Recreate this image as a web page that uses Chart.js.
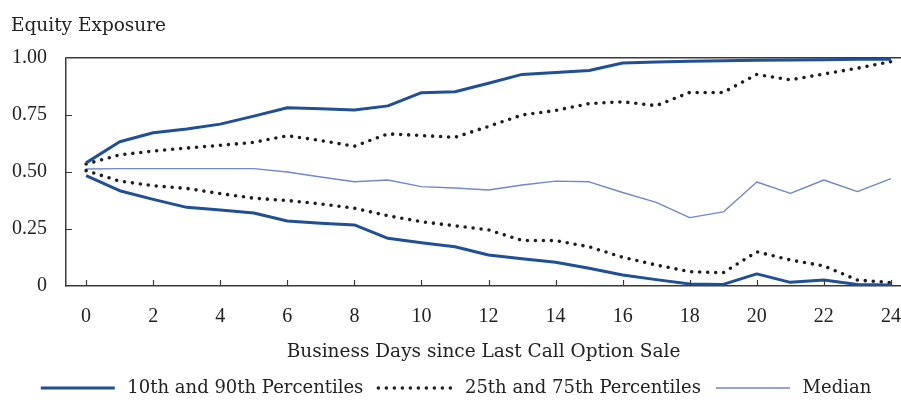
<!DOCTYPE html>
<html>
<head>
<meta charset="utf-8">
<script src="https://cdn.jsdelivr.net/npm/chart.js@4.4.1/dist/chart.umd.min.js"></script>
<style>
  html, body { margin: 0; padding: 0; background: #fff; }
  #wrap { width: 901px; height: 400px; position: relative; }
</style>
</head>
<body>
<div id="wrap"><canvas id="c" width="901" height="400"></canvas></div>
<script>
// ---- data ----
const days = [0,1,2,3,4,5,6,7,8,9,10,11,12,13,14,15,16,17,18,19,20,21,22,23,24];
const p90 = [0.54,0.633,0.672,0.689,0.71,0.745,0.782,0.777,0.772,0.79,0.848,0.852,0.889,0.928,0.936,0.945,0.978,0.982,0.986,0.988,0.99,0.991,0.992,0.994,0.995];
const p75 = [0.535,0.575,0.592,0.605,0.617,0.63,0.659,0.638,0.613,0.667,0.66,0.652,0.70,0.75,0.77,0.80,0.808,0.791,0.849,0.849,0.928,0.904,0.93,0.955,0.984];
const median = [0.513,0.515,0.515,0.515,0.515,0.515,0.50,0.478,0.457,0.465,0.436,0.43,0.421,0.443,0.46,0.457,0.41,0.367,0.30,0.325,0.456,0.406,0.465,0.414,0.471];
const p25 = [0.506,0.46,0.44,0.428,0.405,0.385,0.375,0.36,0.341,0.308,0.282,0.264,0.246,0.20,0.199,0.172,0.126,0.092,0.063,0.058,0.15,0.114,0.088,0.026,0.015];
const p10 = [0.484,0.418,0.38,0.345,0.333,0.32,0.285,0.275,0.268,0.209,0.19,0.172,0.136,0.12,0.104,0.078,0.048,0.028,0.009,0.007,0.053,0.016,0.026,0.007,0.004];
const xTickValues = [0,2,4,6,8,10,12,14,16,18,20,22,24];
const yTickValues = [0,0.25,0.5,0.75,1];
const yTickLabels = ['0','0.25','0.50','0.75','1.00'];
const seriesNames = ['10th and 90th Percentiles','25th and 75th Percentiles','Median'];
const titleText = 'Equity Exposure';
const xTitleText = 'Business Days since Last Call Option Sale';

const DARK = '#1f4f95';
const LIGHT = '#7089cc';
const DOT = '#1e1e1e';
const AXIS = '#3a3a3a';
const TEXT = '#222';
const TEXT_FONT = "'DejaVu Serif', serif";
const NUM_FONT = "'Liberation Serif', 'Times New Roman', serif";

const pts = arr => days.map((d, i) => ({x: d, y: arr[i]}));

const SOLID_STYLE = {borderColor: DARK, borderWidth: 3, borderDash: [], borderCapStyle: 'butt'};
const DOT_STYLE = {borderColor: DOT, borderWidth: 3.6, borderDash: [0, 8], borderCapStyle: 'round'};
const MED_STYLE = {borderColor: LIGHT, borderWidth: 1.4, borderDash: [], borderCapStyle: 'butt'};
const styles = [SOLID_STYLE, DOT_STYLE, MED_STYLE];

const mk = (label, arr, st) => Object.assign({label, data: pts(arr), backgroundColor: st.borderColor,
  pointRadius: 0, tension: 0, borderJoinStyle: 'round'}, st);

const datasets = [
  mk(seriesNames[0], p90, SOLID_STYLE),
  mk(seriesNames[0], p10, SOLID_STYLE),
  mk(seriesNames[1], p75, DOT_STYLE),
  mk(seriesNames[1], p25, DOT_STYLE),
  mk(seriesNames[2], median, MED_STYLE)
];

const innerTicks = {
  id: 'innerTicks',
  afterDatasetsDraw(chart) {
    const {ctx, chartArea: a, scales: {x, y}} = chart;
    ctx.save();
    ctx.strokeStyle = AXIS;
    ctx.lineWidth = 1.2;
    ctx.beginPath();
    xTickValues.forEach(v => {
      const px = Math.round(x.getPixelForValue(v)) + 0.5;
      ctx.moveTo(px, a.bottom);
      ctx.lineTo(px, a.bottom - 6);
    });
    yTickValues.filter(v => v > 0 && v < 1).forEach(v => {
      const py = Math.round(y.getPixelForValue(v)) + 0.5;
      ctx.moveTo(a.left, py);
      ctx.lineTo(a.left + 6, py);
    });
    ctx.stroke();
    ctx.restore();
  }
};

Chart.defaults.font.family = TEXT_FONT;
Chart.defaults.color = TEXT;

new Chart(document.getElementById('c'), {
  type: 'line',
  data: {datasets},
  plugins: [innerTicks],
  options: {
    responsive: false,
    animation: false,
    devicePixelRatio: 1,
    layout: {padding: {left: 11, right: 0, top: 0, bottom: -7}},
    plugins: {
      title: {
        display: true, text: titleText, align: 'start',
        font: {family: TEXT_FONT, size: 18.5, weight: 'normal'}, color: TEXT,
        padding: {top: 15, bottom: 20.8}
      },
      legend: {
        position: 'bottom',
        labels: {
          usePointStyle: true, pointStyle: 'line', pointStyleWidth: 74,
          boxHeight: 10, padding: 15,
          font: {family: TEXT_FONT, size: 18}, color: TEXT,
          generateLabels: () => seriesNames.map((name, k) => ({
            text: '\u2009' + name,
            datasetIndex: [0, 2, 4][k],
            fillStyle: styles[k].borderColor,
            strokeStyle: styles[k].borderColor,
            lineWidth: styles[k].borderWidth,
            lineDash: styles[k].borderDash,
            lineCap: styles[k].borderCapStyle,
            pointStyle: 'line',
            fontColor: TEXT,
            hidden: false
          }))
        }
      },
      tooltip: {enabled: false}
    },
    scales: {
      x: {
        type: 'linear', min: -0.6, max: 24.3,
        afterBuildTicks: s => { s.ticks = xTickValues.map(v => ({value: v})); },
        afterFit: s => { s.height = 78; s.paddingLeft = 0; s.paddingRight = 0; },
        ticks: {font: {family: NUM_FONT, size: 20}, color: TEXT, padding: 19, maxRotation: 0, autoSkip: false},
        grid: {display: false, drawTicks: false},
        border: {display: true, color: AXIS, width: 1.5},
        title: {display: true, text: xTitleText, font: {family: TEXT_FONT, size: 18.5}, color: TEXT, padding: {top: 0, bottom: 1}}
      },
      y: {
        min: 0, max: 1,
        afterBuildTicks: s => { s.ticks = yTickValues.map(v => ({value: v})); },
        afterFit: s => { s.width = 55; s.paddingTop = 0; s.paddingBottom = 0; },
        ticks: {font: {family: NUM_FONT, size: 20}, color: TEXT, padding: 19,
          callback: (v) => yTickLabels[yTickValues.indexOf(v)]},
        grid: {drawTicks: false, lineWidth: 1.5,
          color: c => (c.tick && c.tick.value === 1) ? AXIS : 'rgba(0,0,0,0)'},
        border: {display: true, color: AXIS, width: 1.5}
      }
    }
  }
});
</script>
</body>
</html>
